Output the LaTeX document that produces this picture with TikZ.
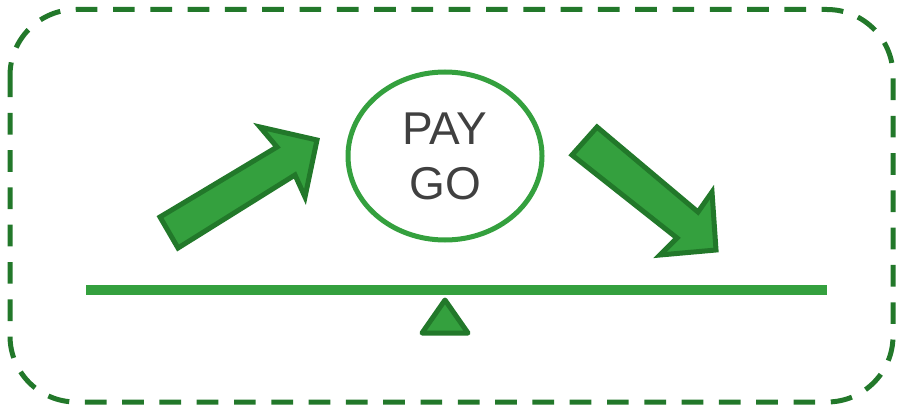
\documentclass[tikz,border=0pt]{standalone}
\usepackage{fontspec}
\setmainfont{Liberation Sans}
\usetikzlibrary{shapes.geometric}
\definecolor{gfill}{HTML}{34A03E}
\definecolor{gdark}{HTML}{22782A}
\definecolor{txt}{HTML}{404040}
\tikzset{
  frame/.style={draw=gdark, line width=5pt, dash pattern=on 21.7pt off 15.6pt, rounded corners=66pt},
  bigarrow/.style={fill=gfill, draw=gdark, line width=5pt, line join=miter},
  oval/.style={ellipse, draw=gfill, line width=5pt, minimum width=194pt, minimum height=168pt, inner sep=0pt,
    text=txt, align=center, font=\fontsize{46}{55}\selectfont},
  beam/.style={draw=gfill, line width=10pt},
  pivot/.style={fill=gfill, draw=gdark, line width=5pt, line join=round}
}
\begin{document}
\begin{tikzpicture}[x=1pt,y=-1pt]
\useasboundingbox (0,0) rectangle (901,409);
\draw[frame] (10,9.5) rectangle (893,402);
\node[oval] (paygo) at (445,156) {PAY\\GO};
\coordinate (bl) at (86,290);
\coordinate (br) at (827,290);
\draw[beam] (bl) -- (br);
\draw[pivot] (445,300) -- (468,333) -- (422,333) -- cycle;
\draw[bigarrow] (160,217) -- (277,147) -- (260,127) -- (317,140) -- (305,197) -- (295,175) -- (178,248) -- cycle;
\draw[bigarrow] (597,127) -- (698,212) -- (712,192) -- (716,250) -- (660,255) -- (677,238) -- (572,155) -- cycle;
\end{tikzpicture}
\end{document}
